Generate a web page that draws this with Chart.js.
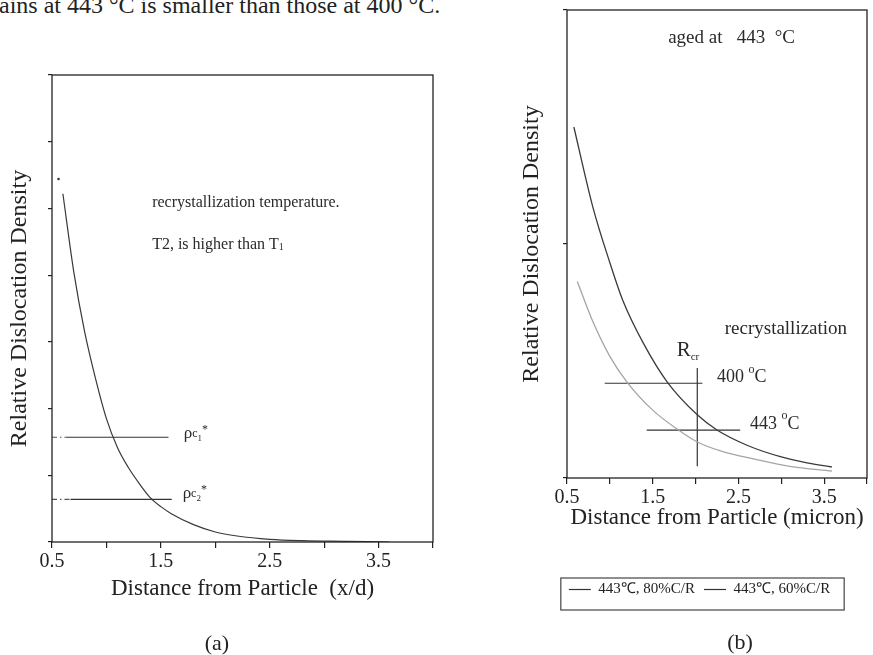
<!DOCTYPE html>
<html>
<head>
<meta charset="utf-8">
<script src="https://cdn.jsdelivr.net/npm/chart.js@4/dist/chart.umd.min.js"></script>
<style>
  body { margin: 0; background: #fff; }
  #wrap { position: relative; width: 873px; height: 655px; overflow: hidden; background: #fff; }
  #wrap canvas { position: absolute; top: 0; }
  .txt { position: absolute; font-family: "Liberation Serif", serif; color: #222; white-space: nowrap; }
</style>
</head>
<body>
<div id="wrap">
  <div class="txt" style="left:-21px; top:-7px; font-size:24px; line-height:24px;">grains at 443 °C is smaller than those at 400 °C.</div>
  <canvas id="chartA" width="440" height="655" style="left:0"></canvas>
  <canvas id="chartB" width="353" height="655" style="left:520px"></canvas>
  <div class="txt" style="left:167px; width:100px; text-align:center; top:631px; font-size:22px; line-height:24px;">(a)</div>
  <div class="txt" style="left:690px; width:100px; text-align:center; top:630px; font-size:22px; line-height:24px;">(b)</div>
</div>
<script>
// tick labels shared by both panels
const xTickLabels = ['0.5', '1.5', '2.5', '3.5'];

// panel (a): dislocation density vs x/d
const distA = [0.6, 0.7, 0.8, 0.9, 1.0, 1.1, 1.2, 1.3, 1.4, 1.5, 1.6, 1.8, 2.0, 2.2, 2.5, 2.8, 3.2, 3.6];
const densA = [5.22, 4.05, 3.15, 2.45, 1.85, 1.42, 1.12, 0.88, 0.67, 0.53, 0.42, 0.26, 0.15, 0.09, 0.04, 0.02, 0.01, 0.0];
const tipDistA = [0.56];
const tipDensA = [5.44];
const critLevelA = [1.57, 0.64];   // rho_c1*, rho_c2*
const critStartA = [0.63, 0.67];
const critEndA = [1.57, 1.60];

// panel (b): aged at 443 C
const distB80 = [0.58, 0.8, 1.0, 1.15, 1.4, 1.67, 2.02, 2.25, 2.6, 3.0, 3.3, 3.59];
const densB80 = [1.50, 1.16, 0.92, 0.76, 0.57, 0.41, 0.27, 0.205, 0.14, 0.09, 0.065, 0.047];
const distB60 = [0.62, 0.8, 1.0, 1.2, 1.5, 1.8, 2.02, 2.3, 2.7, 3.1, 3.59];
const densB60 = [0.84, 0.67, 0.52, 0.41, 0.29, 0.205, 0.154, 0.115, 0.08, 0.05, 0.03];
const recrystLevelB = [0.405, 0.205];  // 400 C, 443 C
const recrystFromB = [0.94, 1.43];
const recrystToB = [2.08, 2.52];
const rcrX = 2.02;
const rcrSpan = [0.05, 0.47];

const serif = '"Liberation Serif", "Times New Roman", serif';
Chart.defaults.font.family = serif;
Chart.defaults.color = '#222';
Chart.defaults.animation = false;

const xy = (xs, ys) => xs.map((x, i) => ({ x, y: ys[i] }));
const hline = (y, x0, x1) => [{ x: x0, y }, { x: x1, y }];

// box round the plot, free text at data positions, box round the legend
function framePlugin(notes, legendShift) {
  return {
    id: 'frame',
    afterLayout(chart) {
      if (chart.options.plugins.legend.display && legendShift) {
        chart.legend.left += legendShift;
        chart.legend.right += legendShift;
      }
    },
    afterDraw(chart) {
      const { ctx, chartArea: a, scales: { x, y } } = chart;
      ctx.save();
      ctx.strokeStyle = '#222';
      ctx.lineWidth = 1.3;
      ctx.strokeRect(a.left, a.top, a.right - a.left, a.bottom - a.top);
      ctx.fillStyle = '#2a2a2a';
      ctx.textBaseline = 'middle';
      ctx.textAlign = 'left';
      notes.forEach(n => {
        let px = x.getPixelForValue(n.x);
        const py = y.getPixelForValue(n.y);
        n.parts.forEach(([t, size, dy]) => {
          ctx.font = `${size}px ${serif}`;
          ctx.fillText(t, px, py + dy);
          px += ctx.measureText(t).width;
        });
      });
      if (chart.options.plugins.legend.display) {
        const hb = chart.legend.legendHitBoxes;
        const last = hb[hb.length - 1];
        const l = hb[0].left - 8, r = last.left + last.width + 14;
        const t = hb[0].top - 4, b = hb[0].top + hb[0].height + 13;
        ctx.lineWidth = 1.2;
        ctx.strokeStyle = '#444';
        ctx.strokeRect(l, t, r - l, b - t);
      }
      ctx.restore();
    }
  };
}

function makeScales(yMax, yWidth, yPad, xHeight, xPad, xTitle) {
  return {
    x: {
      type: 'linear', min: 0.5, max: 4.0,
      ticks: {
        stepSize: 0.5, autoSkip: false, maxRotation: 0, padding: 2, color: '#222',
        font: { size: 20 },
        callback: v => xTickLabels.includes(v.toFixed(1)) ? v.toFixed(1) : ''
      },
      grid: { drawOnChartArea: false, tickLength: 6, color: '#222', lineWidth: 1.2 },
      border: { display: false },
      title: { display: true, text: xTitle, color: '#222', font: { size: 23, lineHeight: 1 }, padding: { top: 0, bottom: xPad } },
      afterFit: s => { s.height = xHeight; }
    },
    y: {
      min: 0, max: yMax,
      ticks: { stepSize: 1, padding: 0, callback: () => '' },
      grid: { drawOnChartArea: false, tickLength: 4, color: '#222', lineWidth: 1.2 },
      border: { display: false },
      title: { display: true, text: 'Relative Dislocation Density', color: '#222', font: { size: 24, lineHeight: 1 }, padding: { top: yPad, bottom: 0 } },
      afterFit: s => { s.width = yWidth; }
    }
  };
}

// ---- panel (a)
const notesA = [
  { x: 1.42, y: 5.08, parts: [['recrystallization temperature.', 16, 0]] },
  { x: 1.42, y: 4.45, parts: [['T2, is higher than T', 16, 0], ['1', 10, 2]] },
  { x: 1.71, y: 1.63, parts: [['ρ', 17, 0], ['c', 12, 1], ['1', 9, 5], ['*', 12, -3]] },
  { x: 1.70, y: 0.73, parts: [['ρ', 17, 0], ['c', 12, 1], ['2', 9, 5], ['*', 12, -3]] }
];

const critSets = critLevelA.flatMap((lv, i) => [
  { data: hline(lv, 0.5, critStartA[i]), borderColor: '#555', borderWidth: 1.2, borderDash: [5, 3, 1.5, 3], pointRadius: 0 },
  { data: hline(lv, critStartA[i], critEndA[i]), borderColor: '#333', borderWidth: 1.2, pointRadius: 0 }
]);

new Chart(document.getElementById('chartA'), {
  type: 'line',
  data: {
    datasets: [
      { data: xy(distA, densA), borderColor: '#3a3a3a', borderWidth: 1.2, pointRadius: 0, cubicInterpolationMode: 'monotone' },
      { data: xy(tipDistA, tipDensA), showLine: false, pointRadius: 1.3, pointBackgroundColor: '#333', pointBorderWidth: 0 },
      ...critSets
    ]
  },
  options: {
    responsive: false,
    devicePixelRatio: 1,
    layout: { padding: { left: 0, top: 75, right: 7, bottom: 43 } },
    plugins: { legend: { display: false }, tooltip: { enabled: false } },
    scales: makeScales(7, 52, 8, 70, 12, 'Distance from Particle  (x/d)')
  },
  plugins: [framePlugin(notesA, 0)]
});

// ---- panel (b)
const notesB = [
  { x: 1.68, y: 1.88, parts: [['aged at   443  °C', 19, 0]] },
  { x: 2.34, y: 0.637, parts: [['recrystallization', 19, 0]] },
  { x: 1.78, y: 0.547, parts: [['R', 21, 0], ['cr', 11, 7]] },
  { x: 2.25, y: 0.43, parts: [['400 ', 18, 0], ['o', 12, -8], ['C', 18, 0]] },
  { x: 2.635, y: 0.23, parts: [['443 ', 18, 0], ['o', 12, -8], ['C', 18, 0]] }
];

const recrystSets = recrystLevelB.map((lv, i) => ({
  data: hline(lv, recrystFromB[i], recrystToB[i]), borderColor: '#333', borderWidth: 1.2, pointRadius: 0
}));

new Chart(document.getElementById('chartB'), {
  type: 'line',
  data: {
    datasets: [
      { label: '443℃, 80%C/R', data: xy(distB80, densB80), borderColor: '#3a3a3a', borderWidth: 1.3, pointRadius: 0, cubicInterpolationMode: 'monotone' },
      { label: '443℃, 60%C/R', data: xy(distB60, densB60), borderColor: '#a5a5a5', borderWidth: 1.3, pointRadius: 0, cubicInterpolationMode: 'monotone' },
      ...recrystSets,
      { data: [{ x: rcrX, y: rcrSpan[0] }, { x: rcrX, y: rcrSpan[1] }], borderColor: '#333', borderWidth: 1.2, pointRadius: 0 }
    ]
  },
  options: {
    responsive: false,
    devicePixelRatio: 1,
    layout: { padding: { left: 0, top: 10, right: 6, bottom: 48 } },
    plugins: {
      tooltip: { enabled: false },
      legend: {
        display: true,
        position: 'bottom',
        labels: {
          usePointStyle: true,
          pointStyleWidth: 22,
          padding: 9,
          color: '#222',
          font: { size: 15 },
          generateLabels: chart => Chart.defaults.plugins.legend.labels.generateLabels(chart)
            .filter(l => l.datasetIndex < 2)
            .map(l => ({ ...l, pointStyle: 'line', strokeStyle: '#333', lineWidth: 1.2 }))
        }
      }
    },
    scales: makeScales(2, 47, 0, 95, 44, 'Distance from Particle (micron)')
  },
  plugins: [framePlugin(notesB, 6)]
});
</script>
</body>
</html>
